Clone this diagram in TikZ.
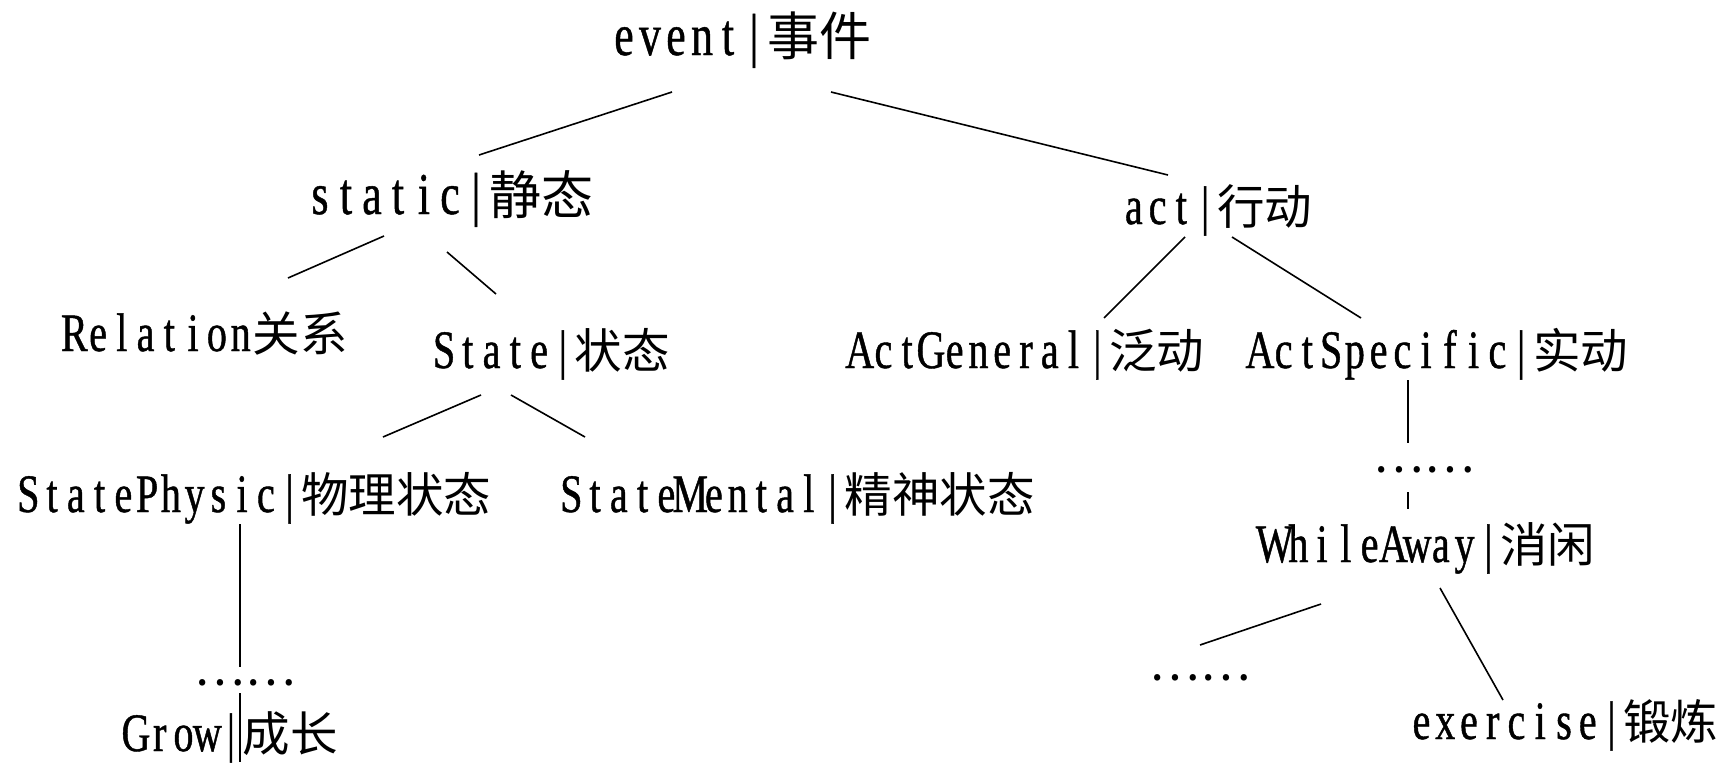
\documentclass[tikz,border=0pt]{standalone}
\usepackage{fontspec}
\newfontfamily\cjk{Noto Sans CJK SC}
\newfontfamily\lat[FakeStretch=0.74,Scale=1.14,FakeBold=0.8]{Liberation Serif}
\newlength\cellw
\def\mylatloop#1{\ifx\relax#1\else\makebox[\cellw]{#1}\expandafter\mylatloop\fi}
\newcommand\mylat[1]{\setlength\cellw{0.5em}{\lat\mylatloop#1\relax}}
\tikzset{
  lbl/.style={inner sep=0pt, text height=20pt, text depth=3pt, font=\cjk\fontsize{23.75}{24}\selectfont},
  big/.style={lbl, font=\cjk\fontsize{26}{26}\selectfont},
  dotsn/.style={inner sep=0pt, font=\cjk\fontsize{23.75}{24}\selectfont},
  conn/.style={line width=0.8pt}
}
\begin{document}
\begin{tikzpicture}[x=0.5pt,y=-0.5pt]
\fill[white] (0,0) rectangle (1736,762);
\useasboundingbox (0,0) rectangle (1736,762);
\node[big] (ev) at (741,38) {\mylat{event|}事件};
\node[big] (st) at (450,197) {\mylat{static|}静态};
\node[lbl] (ac) at (1217,207) {\mylat{act|}行动};
\node[lbl] (re) at (205,334) {\mylat{Relation}关系};
\node[lbl] (sa) at (551,351) {\mylat{State|}状态};
\node[lbl] (ag) at (1026,351) {\mylat{ActGeneral|}泛动};
\node[lbl] (as) at (1438,351) {\mylat{ActSpecific|}实动};
\node[lbl] (sp) at (254,495) {\mylat{StatePhysic|}物理状态};
\node[lbl] (sm) at (797,495) {\mylat{StateMental|}精神状态};
\node[dotsn] (d1) at (1424,470) {……};
\node[lbl] (wa) at (1429,545) {\mylat{WhileAway|}消闲};
\node[dotsn] (d2) at (1200,678) {……};
\node[lbl] (ex) at (1564,722) {\mylat{exercise|}锻炼};
\node[dotsn] (d3) at (245,683) {……};
\node[lbl] (gr) at (231,734) {\mylat{Grow|}成长};

\draw[conn] ([shift={(-69,54)}]ev.center) -- ([shift={(29,-42)}]st.center);
\draw[conn] ([shift={(90,54)}]ev.center) -- ([shift={(-49,-32)}]ac.center);
\draw[conn] ([shift={(-66,39)}]st.center) -- ([shift={(83,-56)}]re.center);
\draw[conn] ([shift={(-3,55)}]st.center) -- ([shift={(-55,-57)}]sa.center);
\draw[conn] ([shift={(-32,30)}]ac.center) -- ([shift={(78,-33)}]ag.center);
\draw[conn] ([shift={(15,30)}]ac.center) -- ([shift={(-77,-33)}]as.center);
\draw[conn] ([shift={(-70,44)}]sa.center) -- ([shift={(129,-58)}]sp.center);
\draw[conn] ([shift={(-40,44)}]sa.center) -- ([shift={(-212,-58)}]sm.center);
\draw[conn] ([shift={(-14,29)}]sp.center) -- ([shift={(-5,-16)}]d3.center);
\draw[conn] ([shift={(-5,10)}]d3.center) -- ([shift={(9,28)}]gr.center);
\draw[conn] ([shift={(-30,29)}]as.center) -- ([shift={(-16,-27)}]d1.center);
\draw[conn] ([shift={(-16,22)}]d1.center) -- ([shift={(-21,-36)}]wa.center);
\draw[conn] ([shift={(-108,59)}]wa.center) -- ([shift={(0,-33)}]d2.center);
\draw[conn] ([shift={(11,43)}]wa.center) -- ([shift={(-61,-22)}]ex.center);
\end{tikzpicture}
\end{document}
